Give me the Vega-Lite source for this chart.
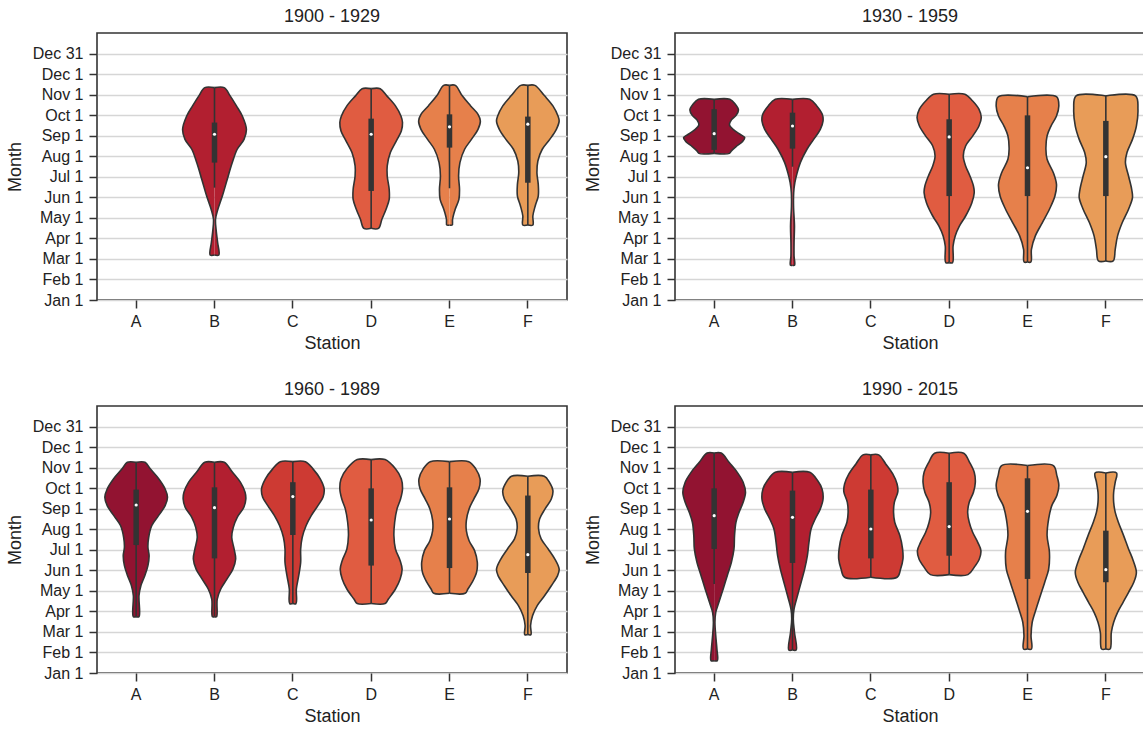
{
  "$schema": "https://vega.github.io/schema/vega-lite/v6.json",
  "padding": {"left": 5, "top": 7, "right": 2, "bottom": 2},
  "background": "white",
  "config": {
    "font": "Liberation Sans",
    "view": {"stroke": "#333333", "strokeWidth": 1.6},
    "header": {"labelFont": "Liberation Sans", "labelFontSize": 18, "labelColor": "#222222", "labelPadding": 7}
  },
  "datasets": {
    "v": [
      {"p":"1900 - 1929","s":"B","d":2.19,"w":0},{"p":"1900 - 1929","s":"B","d":2.19,"w":0.055},{"p":"1900 - 1929","s":"B","d":2.79,"w":0.04},{"p":"1900 - 1929","s":"B","d":3.44,"w":0.02},{"p":"1900 - 1929","s":"B","d":3.93,"w":0.013},{"p":"1900 - 1929","s":"B","d":4.42,"w":0.043},{"p":"1900 - 1929","s":"B","d":5.06,"w":0.10},{"p":"1900 - 1929","s":"B","d":5.88,"w":0.163},{"p":"1900 - 1929","s":"B","d":6.69,"w":0.227},{"p":"1900 - 1929","s":"B","d":7.34,"w":0.29},{"p":"1900 - 1929","s":"B","d":7.82,"w":0.377},{"p":"1900 - 1929","s":"B","d":8.31,"w":0.407},{"p":"1900 - 1929","s":"B","d":8.96,"w":0.355},{"p":"1900 - 1929","s":"B","d":9.45,"w":0.28},{"p":"1900 - 1929","s":"B","d":9.94,"w":0.20},{"p":"1900 - 1929","s":"B","d":10.34,"w":0.124},{"p":"1900 - 1929","s":"B","d":10.34,"w":0},
      {"p":"1900 - 1929","s":"D","d":3.49,"w":0},{"p":"1900 - 1929","s":"D","d":3.49,"w":0.094},{"p":"1900 - 1929","s":"D","d":3.93,"w":0.137},{"p":"1900 - 1929","s":"D","d":4.42,"w":0.19},{"p":"1900 - 1929","s":"D","d":4.90,"w":0.23},{"p":"1900 - 1929","s":"D","d":5.39,"w":0.23},{"p":"1900 - 1929","s":"D","d":6.04,"w":0.205},{"p":"1900 - 1929","s":"D","d":6.53,"w":0.205},{"p":"1900 - 1929","s":"D","d":7.18,"w":0.245},{"p":"1900 - 1929","s":"D","d":7.74,"w":0.32},{"p":"1900 - 1929","s":"D","d":8.23,"w":0.385},{"p":"1900 - 1929","s":"D","d":8.64,"w":0.40},{"p":"1900 - 1929","s":"D","d":8.96,"w":0.38},{"p":"1900 - 1929","s":"D","d":9.45,"w":0.31},{"p":"1900 - 1929","s":"D","d":9.94,"w":0.20},{"p":"1900 - 1929","s":"D","d":10.29,"w":0.116},{"p":"1900 - 1929","s":"D","d":10.29,"w":0},
      {"p":"1900 - 1929","s":"E","d":3.65,"w":0},{"p":"1900 - 1929","s":"E","d":3.65,"w":0.034},{"p":"1900 - 1929","s":"E","d":3.93,"w":0.039},{"p":"1900 - 1929","s":"E","d":4.42,"w":0.073},{"p":"1900 - 1929","s":"E","d":4.90,"w":0.12},{"p":"1900 - 1929","s":"E","d":5.39,"w":0.128},{"p":"1900 - 1929","s":"E","d":6.04,"w":0.116},{"p":"1900 - 1929","s":"E","d":6.69,"w":0.133},{"p":"1900 - 1929","s":"E","d":7.34,"w":0.193},{"p":"1900 - 1929","s":"E","d":7.82,"w":0.28},{"p":"1900 - 1929","s":"E","d":8.31,"w":0.364},{"p":"1900 - 1929","s":"E","d":8.72,"w":0.394},{"p":"1900 - 1929","s":"E","d":9.04,"w":0.364},{"p":"1900 - 1929","s":"E","d":9.45,"w":0.27},{"p":"1900 - 1929","s":"E","d":9.94,"w":0.163},{"p":"1900 - 1929","s":"E","d":10.45,"w":0.075},{"p":"1900 - 1929","s":"E","d":10.45,"w":0},
      {"p":"1900 - 1929","s":"F","d":3.65,"w":0},{"p":"1900 - 1929","s":"F","d":3.65,"w":0.064},{"p":"1900 - 1929","s":"F","d":4.09,"w":0.064},{"p":"1900 - 1929","s":"F","d":4.58,"w":0.094},{"p":"1900 - 1929","s":"F","d":5.06,"w":0.133},{"p":"1900 - 1929","s":"F","d":5.63,"w":0.133},{"p":"1900 - 1929","s":"F","d":6.20,"w":0.116},{"p":"1900 - 1929","s":"F","d":6.77,"w":0.128},{"p":"1900 - 1929","s":"F","d":7.34,"w":0.184},{"p":"1900 - 1929","s":"F","d":7.82,"w":0.28},{"p":"1900 - 1929","s":"F","d":8.31,"w":0.364},{"p":"1900 - 1929","s":"F","d":8.72,"w":0.40},{"p":"1900 - 1929","s":"F","d":8.96,"w":0.385},{"p":"1900 - 1929","s":"F","d":9.45,"w":0.32},{"p":"1900 - 1929","s":"F","d":9.94,"w":0.214},{"p":"1900 - 1929","s":"F","d":10.45,"w":0.09},{"p":"1900 - 1929","s":"F","d":10.45,"w":0},

      {"p":"1930 - 1959","s":"A","d":7.14,"w":0},{"p":"1930 - 1959","s":"A","d":7.14,"w":0.195},{"p":"1930 - 1959","s":"A","d":7.26,"w":0.22},{"p":"1930 - 1959","s":"A","d":7.47,"w":0.28},{"p":"1930 - 1959","s":"A","d":7.71,"w":0.36},{"p":"1930 - 1959","s":"A","d":7.91,"w":0.39},{"p":"1930 - 1959","s":"A","d":8.07,"w":0.33},{"p":"1930 - 1959","s":"A","d":8.28,"w":0.25},{"p":"1930 - 1959","s":"A","d":8.52,"w":0.195},{"p":"1930 - 1959","s":"A","d":8.77,"w":0.22},{"p":"1930 - 1959","s":"A","d":8.99,"w":0.28},{"p":"1930 - 1959","s":"A","d":9.25,"w":0.31},{"p":"1930 - 1959","s":"A","d":9.53,"w":0.27},{"p":"1930 - 1959","s":"A","d":9.77,"w":0.20},{"p":"1930 - 1959","s":"A","d":9.77,"w":0},
      {"p":"1930 - 1959","s":"B","d":1.69,"w":0},{"p":"1930 - 1959","s":"B","d":1.69,"w":0.026},{"p":"1930 - 1959","s":"B","d":2.14,"w":0.02},{"p":"1930 - 1959","s":"B","d":2.79,"w":0.02},{"p":"1930 - 1959","s":"B","d":3.60,"w":0.025},{"p":"1930 - 1959","s":"B","d":4.58,"w":0.013},{"p":"1930 - 1959","s":"B","d":5.23,"w":0.015},{"p":"1930 - 1959","s":"B","d":5.71,"w":0.03},{"p":"1930 - 1959","s":"B","d":6.20,"w":0.06},{"p":"1930 - 1959","s":"B","d":6.69,"w":0.10},{"p":"1930 - 1959","s":"B","d":7.34,"w":0.185},{"p":"1930 - 1959","s":"B","d":7.82,"w":0.27},{"p":"1930 - 1959","s":"B","d":8.31,"w":0.355},{"p":"1930 - 1959","s":"B","d":8.72,"w":0.39},{"p":"1930 - 1959","s":"B","d":9.04,"w":0.38},{"p":"1930 - 1959","s":"B","d":9.45,"w":0.31},{"p":"1930 - 1959","s":"B","d":9.77,"w":0.22},{"p":"1930 - 1959","s":"B","d":9.77,"w":0},
      {"p":"1930 - 1959","s":"D","d":1.82,"w":0},{"p":"1930 - 1959","s":"D","d":1.82,"w":0.043},{"p":"1930 - 1959","s":"D","d":2.63,"w":0.05},{"p":"1930 - 1959","s":"D","d":3.12,"w":0.077},{"p":"1930 - 1959","s":"D","d":3.60,"w":0.13},{"p":"1930 - 1959","s":"D","d":4.09,"w":0.21},{"p":"1930 - 1959","s":"D","d":4.74,"w":0.29},{"p":"1930 - 1959","s":"D","d":5.23,"w":0.32},{"p":"1930 - 1959","s":"D","d":5.55,"w":0.31},{"p":"1930 - 1959","s":"D","d":6.04,"w":0.265},{"p":"1930 - 1959","s":"D","d":6.53,"w":0.21},{"p":"1930 - 1959","s":"D","d":7.01,"w":0.18},{"p":"1930 - 1959","s":"D","d":7.50,"w":0.21},{"p":"1930 - 1959","s":"D","d":7.98,"w":0.30},{"p":"1930 - 1959","s":"D","d":8.47,"w":0.38},{"p":"1930 - 1959","s":"D","d":8.88,"w":0.41},{"p":"1930 - 1959","s":"D","d":9.29,"w":0.38},{"p":"1930 - 1959","s":"D","d":9.69,"w":0.30},{"p":"1930 - 1959","s":"D","d":10.02,"w":0.20},{"p":"1930 - 1959","s":"D","d":10.02,"w":0},
      {"p":"1930 - 1959","s":"E","d":1.85,"w":0},{"p":"1930 - 1959","s":"E","d":1.85,"w":0.043},{"p":"1930 - 1959","s":"E","d":2.47,"w":0.05},{"p":"1930 - 1959","s":"E","d":3.12,"w":0.10},{"p":"1930 - 1959","s":"E","d":3.77,"w":0.19},{"p":"1930 - 1959","s":"E","d":4.42,"w":0.28},{"p":"1930 - 1959","s":"E","d":5.06,"w":0.35},{"p":"1930 - 1959","s":"E","d":5.63,"w":0.37},{"p":"1930 - 1959","s":"E","d":6.20,"w":0.33},{"p":"1930 - 1959","s":"E","d":6.85,"w":0.25},{"p":"1930 - 1959","s":"E","d":7.34,"w":0.235},{"p":"1930 - 1959","s":"E","d":7.99,"w":0.25},{"p":"1930 - 1959","s":"E","d":8.47,"w":0.30},{"p":"1930 - 1959","s":"E","d":8.96,"w":0.37},{"p":"1930 - 1959","s":"E","d":9.45,"w":0.40},{"p":"1930 - 1959","s":"E","d":9.90,"w":0.37},{"p":"1930 - 1959","s":"E","d":9.90,"w":0},
      {"p":"1930 - 1959","s":"F","d":1.90,"w":0},{"p":"1930 - 1959","s":"F","d":1.90,"w":0.094},{"p":"1930 - 1959","s":"F","d":2.47,"w":0.12},{"p":"1930 - 1959","s":"F","d":3.12,"w":0.15},{"p":"1930 - 1959","s":"F","d":3.77,"w":0.21},{"p":"1930 - 1959","s":"F","d":4.42,"w":0.29},{"p":"1930 - 1959","s":"F","d":4.98,"w":0.34},{"p":"1930 - 1959","s":"F","d":5.39,"w":0.33},{"p":"1930 - 1959","s":"F","d":6.04,"w":0.29},{"p":"1930 - 1959","s":"F","d":6.69,"w":0.25},{"p":"1930 - 1959","s":"F","d":7.18,"w":0.27},{"p":"1930 - 1959","s":"F","d":7.82,"w":0.34},{"p":"1930 - 1959","s":"F","d":8.47,"w":0.39},{"p":"1930 - 1959","s":"F","d":9.29,"w":0.41},{"p":"1930 - 1959","s":"F","d":9.94,"w":0.38},{"p":"1930 - 1959","s":"F","d":9.94,"w":0},

      {"p":"1960 - 1989","s":"A","d":2.74,"w":0},{"p":"1960 - 1989","s":"A","d":2.74,"w":0.036},{"p":"1960 - 1989","s":"A","d":3.77,"w":0.036},{"p":"1960 - 1989","s":"A","d":4.25,"w":0.06},{"p":"1960 - 1989","s":"A","d":4.74,"w":0.11},{"p":"1960 - 1989","s":"A","d":5.23,"w":0.15},{"p":"1960 - 1989","s":"A","d":5.71,"w":0.165},{"p":"1960 - 1989","s":"A","d":6.12,"w":0.15},{"p":"1960 - 1989","s":"A","d":6.61,"w":0.16},{"p":"1960 - 1989","s":"A","d":7.18,"w":0.20},{"p":"1960 - 1989","s":"A","d":7.66,"w":0.285},{"p":"1960 - 1989","s":"A","d":8.15,"w":0.37},{"p":"1960 - 1989","s":"A","d":8.56,"w":0.40},{"p":"1960 - 1989","s":"A","d":8.96,"w":0.37},{"p":"1960 - 1989","s":"A","d":9.45,"w":0.29},{"p":"1960 - 1989","s":"A","d":9.94,"w":0.18},{"p":"1960 - 1989","s":"A","d":10.26,"w":0.113},{"p":"1960 - 1989","s":"A","d":10.26,"w":0},
      {"p":"1960 - 1989","s":"B","d":2.74,"w":0},{"p":"1960 - 1989","s":"B","d":2.74,"w":0.026},{"p":"1960 - 1989","s":"B","d":3.60,"w":0.035},{"p":"1960 - 1989","s":"B","d":4.09,"w":0.08},{"p":"1960 - 1989","s":"B","d":4.58,"w":0.16},{"p":"1960 - 1989","s":"B","d":5.06,"w":0.235},{"p":"1960 - 1989","s":"B","d":5.55,"w":0.27},{"p":"1960 - 1989","s":"B","d":6.04,"w":0.25},{"p":"1960 - 1989","s":"B","d":6.61,"w":0.22},{"p":"1960 - 1989","s":"B","d":7.09,"w":0.24},{"p":"1960 - 1989","s":"B","d":7.58,"w":0.29},{"p":"1960 - 1989","s":"B","d":8.07,"w":0.375},{"p":"1960 - 1989","s":"B","d":8.47,"w":0.40},{"p":"1960 - 1989","s":"B","d":8.80,"w":0.39},{"p":"1960 - 1989","s":"B","d":9.29,"w":0.33},{"p":"1960 - 1989","s":"B","d":9.77,"w":0.23},{"p":"1960 - 1989","s":"B","d":10.26,"w":0.124},{"p":"1960 - 1989","s":"B","d":10.26,"w":0},
      {"p":"1960 - 1989","s":"C","d":3.38,"w":0},{"p":"1960 - 1989","s":"C","d":3.38,"w":0.04},{"p":"1960 - 1989","s":"C","d":4.09,"w":0.045},{"p":"1960 - 1989","s":"C","d":4.74,"w":0.075},{"p":"1960 - 1989","s":"C","d":5.39,"w":0.10},{"p":"1960 - 1989","s":"C","d":6.04,"w":0.10},{"p":"1960 - 1989","s":"C","d":6.61,"w":0.12},{"p":"1960 - 1989","s":"C","d":7.18,"w":0.17},{"p":"1960 - 1989","s":"C","d":7.66,"w":0.235},{"p":"1960 - 1989","s":"C","d":8.15,"w":0.32},{"p":"1960 - 1989","s":"C","d":8.56,"w":0.385},{"p":"1960 - 1989","s":"C","d":8.96,"w":0.40},{"p":"1960 - 1989","s":"C","d":9.45,"w":0.35},{"p":"1960 - 1989","s":"C","d":9.94,"w":0.257},{"p":"1960 - 1989","s":"C","d":10.29,"w":0.16},{"p":"1960 - 1989","s":"C","d":10.29,"w":0},
      {"p":"1960 - 1989","s":"D","d":3.38,"w":0},{"p":"1960 - 1989","s":"D","d":3.38,"w":0.178},{"p":"1960 - 1989","s":"D","d":3.60,"w":0.22},{"p":"1960 - 1989","s":"D","d":4.09,"w":0.31},{"p":"1960 - 1989","s":"D","d":4.58,"w":0.37},{"p":"1960 - 1989","s":"D","d":5.06,"w":0.395},{"p":"1960 - 1989","s":"D","d":5.47,"w":0.37},{"p":"1960 - 1989","s":"D","d":6.04,"w":0.31},{"p":"1960 - 1989","s":"D","d":6.69,"w":0.29},{"p":"1960 - 1989","s":"D","d":7.34,"w":0.30},{"p":"1960 - 1989","s":"D","d":7.99,"w":0.33},{"p":"1960 - 1989","s":"D","d":8.47,"w":0.375},{"p":"1960 - 1989","s":"D","d":8.96,"w":0.40},{"p":"1960 - 1989","s":"D","d":9.45,"w":0.385},{"p":"1960 - 1989","s":"D","d":9.94,"w":0.31},{"p":"1960 - 1989","s":"D","d":10.39,"w":0.178},{"p":"1960 - 1989","s":"D","d":10.39,"w":0},
      {"p":"1960 - 1989","s":"E","d":3.88,"w":0},{"p":"1960 - 1989","s":"E","d":3.88,"w":0.20},{"p":"1960 - 1989","s":"E","d":4.09,"w":0.235},{"p":"1960 - 1989","s":"E","d":4.42,"w":0.29},{"p":"1960 - 1989","s":"E","d":4.90,"w":0.345},{"p":"1960 - 1989","s":"E","d":5.39,"w":0.355},{"p":"1960 - 1989","s":"E","d":5.96,"w":0.32},{"p":"1960 - 1989","s":"E","d":6.44,"w":0.25},{"p":"1960 - 1989","s":"E","d":6.93,"w":0.215},{"p":"1960 - 1989","s":"E","d":7.42,"w":0.215},{"p":"1960 - 1989","s":"E","d":7.99,"w":0.25},{"p":"1960 - 1989","s":"E","d":8.47,"w":0.31},{"p":"1960 - 1989","s":"E","d":8.96,"w":0.375},{"p":"1960 - 1989","s":"E","d":9.45,"w":0.39},{"p":"1960 - 1989","s":"E","d":9.94,"w":0.335},{"p":"1960 - 1989","s":"E","d":10.29,"w":0.246},{"p":"1960 - 1989","s":"E","d":10.29,"w":0},
      {"p":"1960 - 1989","s":"F","d":1.87,"w":0},{"p":"1960 - 1989","s":"F","d":1.87,"w":0.039},{"p":"1960 - 1989","s":"F","d":2.31,"w":0.035},{"p":"1960 - 1989","s":"F","d":2.79,"w":0.06},{"p":"1960 - 1989","s":"F","d":3.28,"w":0.12},{"p":"1960 - 1989","s":"F","d":3.77,"w":0.215},{"p":"1960 - 1989","s":"F","d":4.25,"w":0.30},{"p":"1960 - 1989","s":"F","d":4.74,"w":0.38},{"p":"1960 - 1989","s":"F","d":5.06,"w":0.40},{"p":"1960 - 1989","s":"F","d":5.55,"w":0.345},{"p":"1960 - 1989","s":"F","d":6.04,"w":0.26},{"p":"1960 - 1989","s":"F","d":6.53,"w":0.17},{"p":"1960 - 1989","s":"F","d":7.01,"w":0.137},{"p":"1960 - 1989","s":"F","d":7.50,"w":0.15},{"p":"1960 - 1989","s":"F","d":7.99,"w":0.22},{"p":"1960 - 1989","s":"F","d":8.47,"w":0.30},{"p":"1960 - 1989","s":"F","d":8.88,"w":0.32},{"p":"1960 - 1989","s":"F","d":9.29,"w":0.275},{"p":"1960 - 1989","s":"F","d":9.58,"w":0.21},{"p":"1960 - 1989","s":"F","d":9.58,"w":0},

      {"p":"1990 - 2015","s":"A","d":0.60,"w":0},{"p":"1990 - 2015","s":"A","d":0.60,"w":0.04},{"p":"1990 - 2015","s":"A","d":1.17,"w":0.035},{"p":"1990 - 2015","s":"A","d":1.82,"w":0.02},{"p":"1990 - 2015","s":"A","d":2.47,"w":0.01},{"p":"1990 - 2015","s":"A","d":2.95,"w":0.02},{"p":"1990 - 2015","s":"A","d":3.44,"w":0.06},{"p":"1990 - 2015","s":"A","d":4.09,"w":0.115},{"p":"1990 - 2015","s":"A","d":4.74,"w":0.167},{"p":"1990 - 2015","s":"A","d":5.39,"w":0.22},{"p":"1990 - 2015","s":"A","d":6.04,"w":0.253},{"p":"1990 - 2015","s":"A","d":6.69,"w":0.26},{"p":"1990 - 2015","s":"A","d":7.34,"w":0.278},{"p":"1990 - 2015","s":"A","d":7.82,"w":0.317},{"p":"1990 - 2015","s":"A","d":8.31,"w":0.37},{"p":"1990 - 2015","s":"A","d":8.80,"w":0.40},{"p":"1990 - 2015","s":"A","d":9.29,"w":0.37},{"p":"1990 - 2015","s":"A","d":9.77,"w":0.295},{"p":"1990 - 2015","s":"A","d":10.26,"w":0.19},{"p":"1990 - 2015","s":"A","d":10.71,"w":0.09},{"p":"1990 - 2015","s":"A","d":10.71,"w":0},
      {"p":"1990 - 2015","s":"B","d":1.12,"w":0},{"p":"1990 - 2015","s":"B","d":1.12,"w":0.047},{"p":"1990 - 2015","s":"B","d":1.98,"w":0.025},{"p":"1990 - 2015","s":"B","d":2.63,"w":0.01},{"p":"1990 - 2015","s":"B","d":3.12,"w":0.02},{"p":"1990 - 2015","s":"B","d":3.77,"w":0.064},{"p":"1990 - 2015","s":"B","d":4.42,"w":0.11},{"p":"1990 - 2015","s":"B","d":5.06,"w":0.155},{"p":"1990 - 2015","s":"B","d":5.71,"w":0.19},{"p":"1990 - 2015","s":"B","d":6.36,"w":0.21},{"p":"1990 - 2015","s":"B","d":7.01,"w":0.237},{"p":"1990 - 2015","s":"B","d":7.50,"w":0.29},{"p":"1990 - 2015","s":"B","d":7.99,"w":0.355},{"p":"1990 - 2015","s":"B","d":8.47,"w":0.39},{"p":"1990 - 2015","s":"B","d":8.96,"w":0.377},{"p":"1990 - 2015","s":"B","d":9.37,"w":0.32},{"p":"1990 - 2015","s":"B","d":9.77,"w":0.22},{"p":"1990 - 2015","s":"B","d":9.77,"w":0},
      {"p":"1990 - 2015","s":"C","d":4.66,"w":0},{"p":"1990 - 2015","s":"C","d":4.66,"w":0.335},{"p":"1990 - 2015","s":"C","d":5.06,"w":0.38},{"p":"1990 - 2015","s":"C","d":5.55,"w":0.41},{"p":"1990 - 2015","s":"C","d":6.04,"w":0.405},{"p":"1990 - 2015","s":"C","d":6.69,"w":0.37},{"p":"1990 - 2015","s":"C","d":7.34,"w":0.305},{"p":"1990 - 2015","s":"C","d":7.82,"w":0.29},{"p":"1990 - 2015","s":"C","d":8.31,"w":0.30},{"p":"1990 - 2015","s":"C","d":8.83,"w":0.345},{"p":"1990 - 2015","s":"C","d":9.20,"w":0.335},{"p":"1990 - 2015","s":"C","d":9.69,"w":0.28},{"p":"1990 - 2015","s":"C","d":10.18,"w":0.19},{"p":"1990 - 2015","s":"C","d":10.62,"w":0.10},{"p":"1990 - 2015","s":"C","d":10.62,"w":0},
      {"p":"1990 - 2015","s":"D","d":4.79,"w":0},{"p":"1990 - 2015","s":"D","d":4.79,"w":0.24},{"p":"1990 - 2015","s":"D","d":5.15,"w":0.32},{"p":"1990 - 2015","s":"D","d":5.55,"w":0.385},{"p":"1990 - 2015","s":"D","d":5.96,"w":0.405},{"p":"1990 - 2015","s":"D","d":6.36,"w":0.365},{"p":"1990 - 2015","s":"D","d":6.85,"w":0.30},{"p":"1990 - 2015","s":"D","d":7.34,"w":0.256},{"p":"1990 - 2015","s":"D","d":7.82,"w":0.236},{"p":"1990 - 2015","s":"D","d":8.31,"w":0.256},{"p":"1990 - 2015","s":"D","d":8.80,"w":0.31},{"p":"1990 - 2015","s":"D","d":9.29,"w":0.334},{"p":"1990 - 2015","s":"D","d":9.77,"w":0.32},{"p":"1990 - 2015","s":"D","d":10.26,"w":0.26},{"p":"1990 - 2015","s":"D","d":10.70,"w":0.186},{"p":"1990 - 2015","s":"D","d":10.70,"w":0},
      {"p":"1990 - 2015","s":"E","d":1.17,"w":0},{"p":"1990 - 2015","s":"E","d":1.17,"w":0.051},{"p":"1990 - 2015","s":"E","d":1.82,"w":0.045},{"p":"1990 - 2015","s":"E","d":2.47,"w":0.06},{"p":"1990 - 2015","s":"E","d":3.12,"w":0.11},{"p":"1990 - 2015","s":"E","d":3.77,"w":0.165},{"p":"1990 - 2015","s":"E","d":4.42,"w":0.22},{"p":"1990 - 2015","s":"E","d":5.06,"w":0.27},{"p":"1990 - 2015","s":"E","d":5.88,"w":0.28},{"p":"1990 - 2015","s":"E","d":6.69,"w":0.25},{"p":"1990 - 2015","s":"E","d":7.50,"w":0.27},{"p":"1990 - 2015","s":"E","d":8.15,"w":0.31},{"p":"1990 - 2015","s":"E","d":8.64,"w":0.375},{"p":"1990 - 2015","s":"E","d":9.12,"w":0.40},{"p":"1990 - 2015","s":"E","d":9.61,"w":0.375},{"p":"1990 - 2015","s":"E","d":10.10,"w":0.33},{"p":"1990 - 2015","s":"E","d":10.10,"w":0},
      {"p":"1990 - 2015","s":"F","d":1.17,"w":0},{"p":"1990 - 2015","s":"F","d":1.17,"w":0.054},{"p":"1990 - 2015","s":"F","d":1.98,"w":0.07},{"p":"1990 - 2015","s":"F","d":2.47,"w":0.10},{"p":"1990 - 2015","s":"F","d":2.95,"w":0.15},{"p":"1990 - 2015","s":"F","d":3.44,"w":0.22},{"p":"1990 - 2015","s":"F","d":3.93,"w":0.29},{"p":"1990 - 2015","s":"F","d":4.42,"w":0.357},{"p":"1990 - 2015","s":"F","d":4.90,"w":0.39},{"p":"1990 - 2015","s":"F","d":5.47,"w":0.35},{"p":"1990 - 2015","s":"F","d":6.04,"w":0.29},{"p":"1990 - 2015","s":"F","d":6.69,"w":0.227},{"p":"1990 - 2015","s":"F","d":7.34,"w":0.16},{"p":"1990 - 2015","s":"F","d":7.82,"w":0.12},{"p":"1990 - 2015","s":"F","d":8.31,"w":0.10},{"p":"1990 - 2015","s":"F","d":8.80,"w":0.10},{"p":"1990 - 2015","s":"F","d":9.29,"w":0.12},{"p":"1990 - 2015","s":"F","d":9.74,"w":0.137},{"p":"1990 - 2015","s":"F","d":9.74,"w":0},

      {"p":"1900 - 1929","s":"B","q1":6.69,"q3":8.64,"med":8.07,"wlo":5.47,"whi":10.34},
      {"p":"1900 - 1929","s":"D","q1":5.31,"q3":8.83,"med":8.07,"wlo":3.49,"whi":10.29},
      {"p":"1900 - 1929","s":"E","q1":7.42,"q3":9.04,"med":8.43,"wlo":5.44,"whi":10.45},
      {"p":"1900 - 1929","s":"F","q1":5.71,"q3":8.93,"med":8.56,"wlo":3.65,"whi":10.45},
      {"p":"1930 - 1959","s":"A","q1":7.31,"q3":9.29,"med":8.10,"wlo":7.14,"whi":9.77},
      {"p":"1930 - 1959","s":"B","q1":7.37,"q3":9.12,"med":8.47,"wlo":6.49,"whi":9.77},
      {"p":"1930 - 1959","s":"D","q1":5.06,"q3":8.80,"med":7.94,"wlo":1.82,"whi":10.02},
      {"p":"1930 - 1959","s":"E","q1":5.06,"q3":8.99,"med":6.44,"wlo":1.85,"whi":9.90},
      {"p":"1930 - 1959","s":"F","q1":5.06,"q3":8.72,"med":6.98,"wlo":1.90,"whi":9.94},
      {"p":"1960 - 1989","s":"A","q1":6.23,"q3":8.93,"med":8.18,"wlo":2.74,"whi":10.26},
      {"p":"1960 - 1989","s":"B","q1":5.58,"q3":9.04,"med":8.05,"wlo":2.74,"whi":10.26},
      {"p":"1960 - 1989","s":"C","q1":6.72,"q3":9.29,"med":8.59,"wlo":3.38,"whi":10.29},
      {"p":"1960 - 1989","s":"D","q1":5.23,"q3":8.99,"med":7.45,"wlo":3.38,"whi":10.39},
      {"p":"1960 - 1989","s":"E","q1":5.11,"q3":9.04,"med":7.50,"wlo":3.88,"whi":10.29},
      {"p":"1960 - 1989","s":"F","q1":4.87,"q3":8.64,"med":5.76,"wlo":1.87,"whi":9.58},
      {"p":"1990 - 2015","s":"A","q1":6.04,"q3":8.99,"med":7.66,"wlo":4.33,"whi":10.71},
      {"p":"1990 - 2015","s":"B","q1":5.36,"q3":8.88,"med":7.58,"wlo":1.12,"whi":9.77},
      {"p":"1990 - 2015","s":"C","q1":5.58,"q3":8.93,"med":7.01,"wlo":4.66,"whi":10.62},
      {"p":"1990 - 2015","s":"D","q1":5.71,"q3":9.29,"med":7.13,"wlo":4.79,"whi":10.70},
      {"p":"1990 - 2015","s":"E","q1":4.58,"q3":9.48,"med":7.87,"wlo":1.17,"whi":10.10},
      {"p":"1990 - 2015","s":"F","q1":4.42,"q3":6.93,"med":5.03,"wlo":1.17,"whi":9.74}
    ]
  },
  "data": {"name": "v"},
  "facet": {"field": "p", "type": "nominal", "title": null, "header": {"title": null, "labelFontSize": 18, "labelPadding": 7}},
  "columns": 2,
  "spacing": {"row": 27, "column": 15},
  "resolve": {"axis": {"x": "independent", "y": "independent"}},
  "spec": {
    "width": 470,
    "height": 267,
    "encoding": {
      "x": {
        "field": "s", "type": "nominal",
        "scale": {"type": "band", "domain": ["A", "B", "C", "D", "E", "F"], "paddingInner": 0, "paddingOuter": 0},
        "axis": {"title": "Station", "labelAngle": 0, "bandPosition": 0.5, "domain": false, "grid": false, "ticks": true, "tickSize": 8, "tickWidth": 1.5, "tickColor": "#333333", "labelFontSize": 16, "labelColor": "#222222", "labelPadding": 5, "titleFontSize": 18, "titleFontWeight": "normal", "titleColor": "#222222", "titlePadding": 5}
      }
    },
    "layer": [
      {
        "transform": [{"filter": "isValid(datum.w)"}],
        "mark": {"type": "line", "stroke": "#333333", "strokeWidth": 1.6, "interpolate": "catmull-rom", "strokeJoin": "round"},
        "encoding": {
          "xOffset": {"field": "w", "type": "quantitative", "scale": {"domain": [-0.5, 0.5], "nice": false, "zero": false}},
          "y": {
            "field": "d", "type": "quantitative", "title": "Month",
            "scale": {"domain": [0, 13], "nice": false, "zero": false},
            "axis": {"values": [0, 1, 2, 3, 4, 5, 6, 7, 8, 9, 10, 11, 12], "tickCount": 13, "labelOverlap": false, "labelExpr": "['Jan 1','Feb 1','Mar 1','Apr 1','May 1','Jun 1','Jul 1','Aug 1','Sep 1','Oct 1','Nov 1','Dec 1','Dec 31'][datum.value]", "grid": true, "gridColor": "#d6d6d6", "gridWidth": 1.3, "domain": false, "tickColor": "#333333", "tickSize": 8, "tickWidth": 1.5, "labelFontSize": 16, "labelColor": "#222222", "labelPadding": 6, "titleFontSize": 18, "titleFontWeight": "normal", "titleColor": "#222222", "titlePadding": 8}
          },
          "fill": {"field": "s", "type": "nominal", "scale": {"domain": ["A", "B", "C", "D", "E", "F"], "range": ["#921331", "#b21f30", "#cd3a33", "#e05c41", "#e6804b", "#e89c58"]}, "legend": null},
          "detail": {"field": "s"},
          "order": {"field": "d", "type": "quantitative"}
        }
      },
      {
        "transform": [{"filter": "isValid(datum.w)"}],
        "mark": {"type": "line", "stroke": "#333333", "strokeWidth": 1.6, "interpolate": "catmull-rom", "strokeJoin": "round"},
        "encoding": {
          "xOffset": {"field": "w", "type": "quantitative", "scale": {"domain": [-0.5, 0.5], "nice": false, "zero": false, "reverse": true}},
          "y": {"field": "d", "type": "quantitative", "title": "Month",
            "axis": {"values": [0, 1, 2, 3, 4, 5, 6, 7, 8, 9, 10, 11, 12], "tickCount": 13, "labelOverlap": false, "labelExpr": "['Jan 1','Feb 1','Mar 1','Apr 1','May 1','Jun 1','Jul 1','Aug 1','Sep 1','Oct 1','Nov 1','Dec 1','Dec 31'][datum.value]", "grid": true, "gridColor": "#d6d6d6", "gridWidth": 1.3, "domain": false, "tickColor": "#333333", "tickSize": 8, "tickWidth": 1.5, "labelFontSize": 16, "labelColor": "#222222", "labelPadding": 6, "titleFontSize": 18, "titleFontWeight": "normal", "titleColor": "#222222", "titlePadding": 8}},
          "fill": {"field": "s", "type": "nominal", "legend": null},
          "detail": {"field": "s"},
          "order": {"field": "d", "type": "quantitative"}
        }
      },
      {
        "transform": [{"filter": "isValid(datum.q1)"}],
        "mark": {"type": "rule", "color": "#333333", "strokeWidth": 1.6},
        "encoding": {"y": {"field": "wlo", "type": "quantitative", "title": "Month",
            "axis": {"values": [0, 1, 2, 3, 4, 5, 6, 7, 8, 9, 10, 11, 12], "tickCount": 13, "labelOverlap": false, "labelExpr": "['Jan 1','Feb 1','Mar 1','Apr 1','May 1','Jun 1','Jul 1','Aug 1','Sep 1','Oct 1','Nov 1','Dec 1','Dec 31'][datum.value]", "grid": true, "gridColor": "#d6d6d6", "gridWidth": 1.3, "domain": false, "tickColor": "#333333", "tickSize": 8, "tickWidth": 1.5, "labelFontSize": 16, "labelColor": "#222222", "labelPadding": 6, "titleFontSize": 18, "titleFontWeight": "normal", "titleColor": "#222222", "titlePadding": 8}}, "y2": {"field": "whi"}}
      },
      {
        "transform": [{"filter": "isValid(datum.q1)"}],
        "mark": {"type": "rule", "color": "#333333", "strokeWidth": 5.5, "strokeCap": "butt"},
        "encoding": {"y": {"field": "q1", "type": "quantitative", "title": "Month",
            "axis": {"values": [0, 1, 2, 3, 4, 5, 6, 7, 8, 9, 10, 11, 12], "tickCount": 13, "labelOverlap": false, "labelExpr": "['Jan 1','Feb 1','Mar 1','Apr 1','May 1','Jun 1','Jul 1','Aug 1','Sep 1','Oct 1','Nov 1','Dec 1','Dec 31'][datum.value]", "grid": true, "gridColor": "#d6d6d6", "gridWidth": 1.3, "domain": false, "tickColor": "#333333", "tickSize": 8, "tickWidth": 1.5, "labelFontSize": 16, "labelColor": "#222222", "labelPadding": 6, "titleFontSize": 18, "titleFontWeight": "normal", "titleColor": "#222222", "titlePadding": 8}}, "y2": {"field": "q3"}}
      },
      {
        "transform": [{"filter": "isValid(datum.q1)"}],
        "mark": {"type": "point", "filled": true, "color": "#ffffff", "opacity": 1, "size": 10},
        "encoding": {"y": {"field": "med", "type": "quantitative", "title": "Month",
            "axis": {"values": [0, 1, 2, 3, 4, 5, 6, 7, 8, 9, 10, 11, 12], "tickCount": 13, "labelOverlap": false, "labelExpr": "['Jan 1','Feb 1','Mar 1','Apr 1','May 1','Jun 1','Jul 1','Aug 1','Sep 1','Oct 1','Nov 1','Dec 1','Dec 31'][datum.value]", "grid": true, "gridColor": "#d6d6d6", "gridWidth": 1.3, "domain": false, "tickColor": "#333333", "tickSize": 8, "tickWidth": 1.5, "labelFontSize": 16, "labelColor": "#222222", "labelPadding": 6, "titleFontSize": 18, "titleFontWeight": "normal", "titleColor": "#222222", "titlePadding": 8}}}
      }
    ],
    "resolve": {"scale": {"xOffset": "independent"}}
  }
}
